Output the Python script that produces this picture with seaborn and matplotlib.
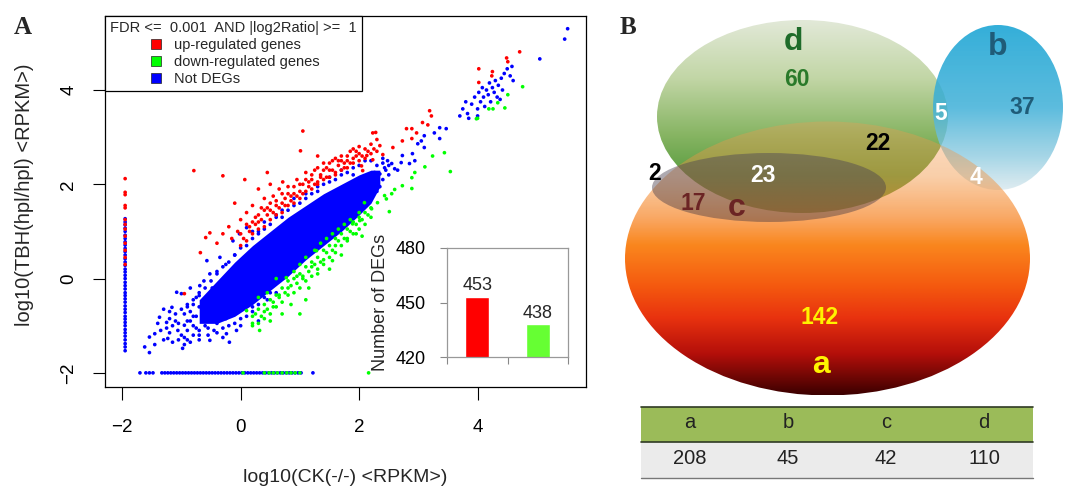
import numpy as np
import pandas as pd
import matplotlib
matplotlib.use("Agg")
import matplotlib.pyplot as plt
import seaborn as sns
from matplotlib.patches import Ellipse, Rectangle
from matplotlib.lines import Line2D
from matplotlib.colors import to_rgb

# ---------------- Panel A data (log10 RPKM) ----------------
# dense core of the "Not DEGs" cloud: x, lower edge, upper edge
core_x = [-0.7, -0.4, -0.1, 0.2, 0.5, 0.8, 1.1, 1.4, 1.7, 2.0, 2.2, 2.35]
core_lo = [-0.95, -0.95, -0.8, -0.55, -0.25, 0.05, 0.4, 0.7, 1.0, 1.35, 1.6, 1.95]
core_hi = [-0.45, -0.05, 0.35, 0.7, 1.0, 1.3, 1.55, 1.8, 2.0, 2.2, 2.3, 2.3]

blue_pts = [
    (-1.54, -1.57), (-1.54, -1.24), (-1.45, -1.17), (-1.37, -0.82), (-1.25, -0.93), (-1.16, -0.61),
    (-1.08, -0.29), (-1.0, -0.32), (-0.98, -1.48), (-1.23, -1.27), (-1.3, -1.3), (-1.1, -0.9),
    (-1.2, -0.7), (-0.9, -0.6), (-0.85, -0.2), (-0.75, -0.4), (-0.69, -0.15), (-0.52, 0.1),
    (-0.57, 0.38), (-0.35, 0.45), (-0.13, 0.8), (-0.02, 0.95), (0.1, 1.08), (-0.64, -0.47),
    (-0.41, -0.75), (-0.24, -1.17), (-0.07, -1.1), (-0.52, -1.31), (-0.19, -1.35), (-0.8, -1.0),
    (-0.7, -1.2), (-0.6, -0.9), (-0.45, -1.1), (-0.3, -1.25), (-0.9, -0.9),
    (-1.06, -1.1), (-0.95, -0.99), (-0.85, -0.9), (-0.75, -0.8), (-0.65, -0.7), (-0.55, -0.6),
    (-0.45, -0.5), (-0.35, -0.4), (-0.25, -0.3), (-0.15, -0.2),
    (-0.9, -1.3), (-0.8, -1.2), (-0.7, -1.1), (-0.6, -1.0), (-0.5, -0.9), (-0.4, -0.82), (-0.3, -0.73),
    (-1.2, -0.85), (-1.1, -0.75), (-1.0, -0.65), (-0.9, -0.55), (-0.8, -0.45), (-0.7, -0.36),
    (-0.62, -0.05), (-0.48, -0.2), (-0.4, 0.15), (-0.25, 0.3), (-0.1, 0.5), (-0.55, -0.75),
    (-1.15, -1.0), (-1.05, -0.95), (-1.0, -1.2), (-0.95, -0.75), (-0.9, -1.1), (-0.85, -0.7),
    (-0.8, -0.8), (-0.75, -1.05), (-0.7, -0.6), (-0.65, -0.9), (-0.6, -0.5), (-0.55, -1.05),
    (-0.5, -0.7), (-0.45, -0.3), (-0.4, -0.95), (-0.35, -0.6), (-0.3, -0.2), (-0.25, -0.85),
    (-0.2, -0.5), (-0.15, -0.7), (-0.1, -0.3), (-0.05, -0.6), (-1.35, -1.1), (-1.25, -1.05),
    (-1.2, -1.15), (-1.4, -0.95), (-1.3, -0.65), (-1.45, -1.4), (-1.62, -1.45), (-1.15, -1.35),
    (-1.05, -1.3), (-0.95, -1.4),
    (-0.8, -0.55), (-0.7, -0.3), (-0.6, -0.2), (-0.5, -0.05), (-0.4, 0.1), (-0.3, 0.25),
    (-0.2, 0.35), (-0.1, 0.5), (0.0, 0.65), (0.1, 0.7), (0.2, 0.85), (0.3, 1.0), (0.4, 1.05),
    (0.5, 1.15), (0.6, 1.3), (0.7, 1.3), (0.8, 1.45), (0.9, 1.55), (1.0, 1.6), (1.1, 1.7),
    (1.2, 1.8), (1.3, 1.85), (1.4, 2.0), (1.5, 2.05), (1.6, 2.1), (1.7, 2.2), (1.8, 2.25),
    (1.9, 2.2), (2.0, 2.4), (2.2, 2.5), (2.3, 2.4), (2.4, 2.55), (2.45, 2.3), (2.5, 2.4),
    (2.4, 2.1), (2.35, 1.95),
    (-0.95, -1.25), (-0.85, -1.35), (-0.7, -1.3), (-0.55, -1.2), (-0.4, -1.15), (-0.3, -1.05),
    (-0.2, -1.0), (-0.1, -0.95), (0.0, -0.85), (0.1, -0.8), (0.2, -0.6), (0.3, -0.55), (0.4, -0.4),
    (0.5, -0.3), (0.6, -0.1), (0.7, 0.0), (0.8, 0.1), (0.9, 0.25), (1.0, 0.35), (1.1, 0.5),
    (1.2, 0.6), (1.3, 0.75), (1.4, 0.85), (1.5, 0.95), (1.6, 1.05), (1.7, 1.15), (1.8, 1.3),
    (1.9, 1.4), (2.0, 1.5), (2.1, 1.6), (2.2, 1.75), (2.3, 1.85),
    (0.2, 1.0), (0.3, 0.95), (0.4, 1.2), (0.6, 1.35), (0.7, 1.45), (0.9, 1.7), (1.1, 1.8),
    (1.3, 1.95), (1.5, 2.15), (1.7, 2.3), (1.9, 2.35), (2.1, 2.5), (0.0, -1.0), (0.2, -0.7),
    (0.3, -0.9), (0.45, -0.45), (0.6, -0.3), (0.8, 0.1), (1.0, 0.45), (1.2, 0.7), (1.4, 1.0),
    (1.6, 1.2), (1.8, 1.5), (2.0, 1.7), (0.15, -0.55), (0.35, -0.2), (0.55, 0.05), (0.75, 0.3),
    (2.04, 1.72), (2.06, 1.93), (2.13, 2.03), (2.18, 1.86), (2.23, 2.14), (2.26, 2.25), (2.35, 2.22),
    (2.43, 2.35), (2.48, 2.5), (2.55, 2.44), (2.6, 2.33), (2.71, 2.46), (2.73, 2.61), (2.85, 2.44),
    (2.9, 2.65), (2.94, 2.5), (2.99, 2.86), (3.05, 2.92), (3.1, 3.03), (3.1, 2.78), (3.27, 3.09),
    (3.36, 3.2), (3.36, 2.97), (3.47, 3.18), (2.3, 2.0), (2.5, 2.2), (2.65, 2.3), (2.4, 2.45),
    (3.7, 3.45), (3.75, 3.6), (3.8, 3.75), (3.83, 3.5), (3.9, 3.7), (3.95, 3.85), (4.0, 3.6),
    (4.02, 3.95), (4.05, 3.75), (4.08, 4.05), (4.1, 3.85), (4.12, 3.65), (4.15, 4.0), (4.18, 3.9),
    (4.2, 4.15), (4.22, 3.75), (4.25, 4.05), (4.28, 3.95), (4.3, 4.2), (4.33, 3.85), (4.35, 4.1),
    (4.4, 4.25), (4.42, 4.0), (4.45, 4.35), (4.5, 4.45), (4.55, 4.3), (4.58, 4.5), (4.6, 4.2),
    (4.38, 3.8), (3.85, 3.4), (4.0, 3.45),
    (5.05, 4.66), (5.47, 5.08), (5.52, 5.3),
]

red_pts = [
    (-0.95, -0.32), (-0.68, 0.55), (-0.59, 0.87), (-0.52, 0.97), (-0.79, 2.29), (-0.3, 2.18),
    (0.07, 2.1), (0.71, 2.05), (1.01, 2.71), (1.05, 3.13), (-0.4, 0.75), (-0.3, 0.95), (-0.2, 1.1),
    (-0.15, 0.85), (-0.05, 1.0), (0.0, 1.25), (0.1, 1.4), (0.15, 1.1), (0.2, 1.55), (0.25, 1.3),
    (0.3, 1.2), (0.35, 1.5), (0.4, 1.7), (0.45, 1.35), (0.5, 1.45), (0.55, 1.75), (0.6, 1.55),
    (0.65, 1.9), (0.7, 1.6), (0.75, 1.7), (0.8, 1.95), (0.85, 1.75), (0.9, 1.8), (0.95, 2.1),
    (1.0, 1.85), (1.05, 2.0), (1.1, 2.25), (1.15, 1.95), (1.2, 2.1), (1.25, 2.3), (1.3, 2.05),
    (1.35, 2.2), (1.4, 2.45), (1.45, 2.15), (1.5, 2.3), (1.55, 2.5), (1.6, 2.25), (1.65, 2.4),
    (1.7, 2.6), (1.75, 2.35), (1.8, 2.5), (1.85, 2.7), (1.9, 2.45), (1.95, 2.6), (2.0, 2.8),
    (2.06, 2.29), (2.04, 2.39), (2.13, 2.61), (2.23, 2.52), (2.35, 2.82), (2.4, 2.63), (2.57, 2.78),
    (2.73, 2.92), (2.89, 2.97), (2.23, 3.09), (2.28, 3.1), (2.8, 3.18), (2.89, 3.18), (2.97, 3.09),
    (3.07, 3.31), (3.16, 3.26), (3.19, 3.56), (3.22, 3.45), (4.02, 4.16), (4.02, 4.45), (4.24, 4.3),
    (4.25, 4.39), (4.49, 4.68), (4.51, 4.6), (4.71, 4.81), (0.3, 1.9), (0.5, 2.0), (-0.1, 1.6),
    (0.45, 2.25), (1.3, 2.6),
    (0.0, 0.7), (0.0, 0.95), (0.1, 0.8), (0.1, 1.15), (0.2, 0.95), (0.2, 1.2), (0.3, 1.05),
    (0.3, 1.35), (0.4, 1.1), (0.4, 1.45), (0.5, 1.25), (0.5, 1.6), (0.6, 1.35), (0.6, 1.65),
    (0.7, 1.4), (0.7, 1.8), (0.8, 1.55), (0.8, 1.8), (0.9, 1.6), (0.9, 1.95), (1.0, 1.7),
    (1.0, 2.0), (1.1, 1.85), (1.1, 2.1), (1.2, 1.9), (1.2, 2.2), (1.3, 2.0), (1.3, 2.35),
    (1.4, 2.1), (1.4, 2.3), (1.5, 2.15), (1.5, 2.45), (1.6, 2.2), (1.6, 2.55), (1.7, 2.3),
    (1.7, 2.5), (1.8, 2.35), (1.8, 2.6), (1.9, 2.55), (1.9, 2.75), (2.0, 2.5), (2.0, 2.65),
    (2.1, 2.55), (2.1, 2.75), (2.2, 2.65), (2.2, 2.85), (2.3, 2.7), (2.3, 2.95),
    (0.05, 0.85), (0.15, 1.0), (0.25, 1.15), (0.35, 1.25), (0.45, 1.5), (0.55, 1.4), (0.65, 1.5),
    (0.75, 1.55), (0.85, 1.65), (0.95, 1.75), (1.05, 1.8), (1.15, 2.05), (1.25, 2.0), (1.35, 2.15),
    (1.45, 2.35), (1.55, 2.3), (1.65, 2.5), (1.75, 2.45), (1.85, 2.45), (1.95, 2.7), (2.05, 2.6),
    (2.15, 2.7), (2.25, 2.75),
]

green_pts = [
    (0.1, -0.68), (0.32, -1.1), (0.2, -0.95), (0.4, -0.7), (0.5, -0.9), (0.55, -0.5), (0.65, -0.35),
    (0.7, -0.75), (0.77, 0.02), (0.8, -0.2), (0.85, -0.55), (0.9, 0.15), (0.95, -0.1), (1.0, -0.75),
    (1.0, 0.3), (1.05, 0.05), (1.1, 0.45), (1.15, -0.2), (1.2, 0.25), (1.25, 0.6), (1.28, 0.59),
    (1.3, 0.1), (1.35, 0.75), (1.4, 0.4), (1.45, 0.85), (1.5, 0.2), (1.55, 0.38), (1.55, 0.95),
    (1.6, 0.7), (1.65, 1.05), (1.7, 0.5), (1.75, 1.15), (1.8, 0.85), (1.85, 1.25), (1.89, 1.16),
    (1.95, 0.95), (2.0, 1.4), (2.01, 1.23), (2.09, 1.61), (2.05, 0.9), (2.21, 1.48), (2.31, 1.61),
    (2.43, 1.76), (2.46, 1.69), (2.51, 1.42), (2.55, 1.8), (2.6, 1.89), (2.73, 1.97), (2.89, 1.91),
    (2.89, 2.14), (2.94, 2.25), (3.11, 2.37), (3.24, 2.6), (3.44, 2.67), (3.54, 2.27), (3.98, 3.39),
    (4.0, 3.4), (4.19, 3.6), (4.26, 3.6), (4.34, 3.73), (4.46, 3.62), (4.51, 3.9), (4.76, 4.07),
    (0.6, 0.0), (0.45, -0.3), (1.1, -0.45), (0.3, -0.4),
    (0.2, -0.8), (0.2, -1.0), (0.3, -0.65), (0.3, -0.95), (0.4, -0.55), (0.4, -0.85), (0.5, -0.45),
    (0.5, -0.75), (0.6, -0.35), (0.6, -0.6), (0.7, -0.2), (0.7, -0.5), (0.8, -0.05), (0.8, -0.35),
    (0.9, 0.0), (0.9, -0.3), (1.0, 0.1), (1.0, -0.2), (1.1, 0.25), (1.1, -0.05), (1.2, 0.35),
    (1.2, 0.05), (1.3, 0.45), (1.3, 0.2), (1.4, 0.6), (1.4, 0.3), (1.5, 0.7), (1.5, 0.45),
    (1.6, 0.85), (1.6, 0.55), (1.7, 0.95), (1.7, 0.7), (1.8, 1.05), (1.8, 0.8), (1.9, 1.2),
    (1.9, 0.95), (2.0, 1.3), (2.0, 1.05), (2.1, 1.4), (2.1, 1.15), (2.2, 1.5), (2.2, 1.3),
    (0.25, -0.75), (0.35, -0.8), (0.45, -0.65), (0.55, -0.6), (0.65, -0.4), (0.75, -0.3),
    (0.85, -0.15), (0.95, 0.05), (1.05, 0.0), (1.15, 0.15), (1.25, 0.3), (1.35, 0.35),
    (1.45, 0.55), (1.55, 0.6), (1.65, 0.8), (1.75, 0.85), (1.85, 1.0), (1.95, 1.15),
    (2.05, 1.25), (2.15, 1.35),
]

# genes with zero expression in CK (x = -2 column) and in TBH (y = -2 row)
strip_x = -1.95
vblue_y = [-1.53, -1.45, -1.38, -1.3, -1.22, -1.15, -1.08, -1.0, -0.93, -0.86, -0.8, -0.72, -0.65,
           -0.58, -0.5, -0.43, -0.36, -0.3, -0.22, -0.15, -0.08, 0.0, 0.07, 0.14, 0.2, 0.28, 0.35,
           0.42, 0.5, 0.57, 0.64, 0.71, 0.78, 0.85, 0.92, 1.0, 1.07, 1.14, 1.2, 1.27]
vred_y = [2.12, 1.83, 1.78, 1.55, 1.5, 1.25, 1.15, 1.05, 0.9, 0.75, 0.6, 0.45, 0.3]
strip_y = -2.0
hblue_x = [-1.7, -1.6, -1.54, -1.48, -1.33, -1.28, -1.23, -1.18, -1.13, -1.08, -1.03, -0.98, -0.93,
           -0.88, -0.83, -0.78, -0.73, -0.68, -0.63, -0.58, -0.53, -0.48, -0.43, -0.38, -0.33, -0.28,
           -0.23, -0.18, -0.13, -0.08, -0.03, 0.02, 0.07, 0.12, 0.17, 0.22, 0.27, 0.32, 0.37, 0.42,
           0.47, 0.52, 0.57, 0.62, 0.67, 0.72, 0.77, 0.82, 0.87, 0.92, 0.97, 1.02, 1.22]
hgreen_x = [0.04, 0.4, 0.48, 0.55, 0.62, 0.7, 0.78, 0.85, 0.92, 1.0, 2.16]

legend_labels = ["up-regulated genes", "down-regulated genes", "Not DEGs"]
legend_colors = ["#FF0000", "#00FF00", "#0000FF"]
legend_title = "FDR <=  0.001  AND |log2Ratio| >=  1"

bar_names = ["up", "down"]
bar_counts = [453, 438]
bar_colors = ["#FF0000", "#66FF33"]

# ---------------- Panel B data ----------------
set_names = ["a", "b", "c", "d"]
set_sizes = [208, 45, 42, 110]
region_counts = [60, 37, 5, 22, 2, 23, 4, 17, 142]

# ---------------- Style ----------------
sns.set_theme(style="white")
plt.rcParams["font.family"] = ["Liberation Sans", "DejaVu Sans"]

fig = plt.figure(figsize=(10.67, 4.88), dpi=100)

# ================= Panel A =================
ax = fig.add_axes([105 / 1067, 1 - 387 / 488, 481 / 1067, 371 / 488])
ax.fill_between(core_x, core_lo, core_hi, color="#0000FF", lw=0, zorder=1)

rows = []
for x, y in blue_pts:
    rows.append((x, y, "Not DEGs"))
for y in vblue_y:
    rows.append((strip_x, y, "Not DEGs"))
for x in hblue_x:
    rows.append((x, strip_y, "Not DEGs"))
for x, y in red_pts:
    rows.append((x, y, "up-regulated genes"))
for y in vred_y:
    rows.append((strip_x, y, "up-regulated genes"))
for x, y in green_pts:
    rows.append((x, y, "down-regulated genes"))
for x in hgreen_x:
    rows.append((x, strip_y, "down-regulated genes"))
df = pd.DataFrame(rows, columns=["ck", "tbh", "group"])
pal = dict(zip(legend_labels, legend_colors))
sns.scatterplot(data=df, x="ck", y="tbh", hue="group", palette=pal, s=7, linewidth=0,
                legend=False, ax=ax, zorder=2)

ax.set_xlim(-2.29, 5.83)
ax.set_ylim(-2.30, 5.57)
ax.set_xticks([-2, 0, 2, 4])
ax.set_yticks([-2, 0, 2, 4])
ax.set_xlabel("")
ax.set_ylabel("")
ax.tick_params(direction="out", length=9, width=0.8, labelsize=13.5,
               bottom=True, left=True, colors="black")
ax.tick_params(axis="x", pad=14)
ax.tick_params(axis="y", pad=11)
for lbl in ax.get_yticklabels():
    lbl.set_rotation(90)
    lbl.set_va("center")
for sp in ax.spines.values():
    sp.set_color("black")
    sp.set_linewidth(0.9)

handles = [Line2D([], [], marker="s", ls="", markerfacecolor=c, markeredgecolor="#222222",
                  markeredgewidth=0.5, markersize=7) for c in legend_colors]
leg = ax.legend(handles, legend_labels, title=legend_title, loc="upper left",
                bbox_to_anchor=(0, 1), borderaxespad=0, frameon=True, fancybox=False,
                fontsize=10.5, title_fontsize=10.5, handletextpad=0.7, labelspacing=0.2,
                borderpad=0.35, framealpha=1, handlelength=1.2)
leg.get_frame().set_edgecolor("black")
leg.get_frame().set_linewidth(0.9)

fig.text(345 / 1067, 1 - 477 / 488, "log10(CK(-/-) <RPKM>)", ha="center", va="center", fontsize=14)
fig.text(25 / 1067, 1 - 195 / 488, "log10(TBH(hpl/hpl) <RPKM>)", ha="center", va="center",
         rotation=90, fontsize=14.5)

# inset bar chart
axi = fig.add_axes([447 / 1067, 1 - 357 / 488, 121 / 1067, 109 / 488])
sns.barplot(x=bar_names, y=bar_counts, hue=bar_names, palette=bar_colors, legend=False,
            width=0.4, saturation=1, ax=axi, zorder=2)
axi.set_facecolor("white")
axi.set_ylim(420, 480)
axi.set_xlim(-0.5, 1.5)
axi.set_xticks([-0.5, 0.5, 1.5])
axi.set_xticklabels([])
axi.set_yticks([420, 450, 480])
axi.set_xlabel("")
axi.set_ylabel("Number of DEGs", fontsize=13, labelpad=5)
axi.tick_params(direction="out", length=5, width=0.8, colors="#888888", labelcolor="black",
                labelsize=13, bottom=True, left=True)
axi.tick_params(axis="y", pad=10)
for sp in axi.spines.values():
    sp.set_color("#999999")
    sp.set_linewidth(0.9)
for i, v in enumerate(bar_counts):
    axi.text(i, v + 1.5, str(v), ha="center", va="bottom", fontsize=13)

fig.text(23 / 1067, 1 - 27 / 488, "A", ha="center", va="center", fontsize=18,
         fontweight="bold", family=["Liberation Serif", "DejaVu Serif"])

# ================= Panel B =================
axb = fig.add_axes([600 / 1067, 0, 467 / 1067, 1])
axb.set_xlim(600, 1067)
axb.set_ylim(488, 0)
axb.axis("off")


def grad_ellipse(cx, cy, w, h, stops, z):
    e = Ellipse((cx, cy), w, h, facecolor="none", edgecolor="none")
    axb.add_patch(e)
    pos = [s[0] for s in stops]
    rgb = np.array([to_rgb(s[1]) for s in stops])
    alp = [s[2] for s in stops]
    t = np.linspace(0, 1, 300)
    img = np.zeros((300, 1, 4))
    for k in range(3):
        img[:, 0, k] = np.interp(t, pos, rgb[:, k])
    img[:, 0, 3] = np.interp(t, pos, alp)
    im = axb.imshow(img, extent=(cx - w / 2 - 2, cx + w / 2 + 2, cy + h / 2, cy - h / 2),
                    aspect="auto", zorder=z, interpolation="bilinear", origin="upper")
    im.set_clip_path(e)


# d (green), b (blue), a (orange -> dark red, translucent at the top), c (grey-brown)
grad_ellipse(802.5, 116.5, 291, 193,
             [(0.0, "#E2E9D8", 1.0), (0.3, "#C2D6A6", 1.0), (0.6, "#86B462", 1.0),
              (0.8, "#5C9E42", 1.0), (1.0, "#3F8A30", 1.0)], 1)
grad_ellipse(998, 107.5, 130, 165,
             [(0.0, "#22A8D6", 0.92), (0.5, "#3FB0D8", 0.85), (0.8, "#8ECBE0", 0.78),
              (1.0, "#D5E6EC", 0.75)], 2)
grad_ellipse(827.5, 258.5, 405, 274,
             [(0.0, "#F59A50", 0.32), (0.2, "#F39440", 0.45), (0.35, "#F88C32", 0.75),
              (0.45, "#FA871E", 1.0), (0.6, "#F55A0F", 1.0), (0.72, "#E8320F", 1.0),
              (0.85, "#B40F0A", 1.0), (1.0, "#3C0000", 1.0)], 3)
grad_ellipse(769, 187.5, 234, 69,
             [(0.0, "#4A4458", 0.45), (1.0, "#4A3A40", 0.45)], 4)

axb.set_xlim(600, 1067)
axb.set_ylim(488, 0)

txt = dict(fontweight="bold", ha="center", va="center", zorder=10)
axb.text(793, 42, "d", color="#1E6B2A", fontsize=23, **txt)
axb.text(998, 47, "b", color="#1F5C78", fontsize=23, **txt)
axb.text(737, 208, "c", color="#6B2424", fontsize=23, **txt)
axb.text(821, 365, "a", color="#FFF200", fontsize=23, **txt)
region_pos = [(797, 80), (1022, 107), (941, 113), (878, 144), (655, 173), (763, 176),
              (976, 177), (693, 203), (820, 318)]
region_col = ["#2A7A2A", "#1F5C78", "white", "black", "black", "white", "white", "#6B2424", "#FFF200"]
for (px, py), c, n in zip(region_pos, region_col, region_counts):
    axb.text(px, py, str(n), color=c, fontsize=16.5, **txt)

# summary table
tx0, tx1 = 641, 1033
axb.add_patch(Rectangle((tx0, 407), tx1 - tx0, 35, facecolor="#9BBB59", edgecolor="none", zorder=5))
axb.add_patch(Rectangle((tx0, 442), tx1 - tx0, 36, facecolor="#EBEBEB", edgecolor="none", zorder=5))
axb.plot([tx0, tx1], [407, 407], color="#2F3A24", lw=1.2, zorder=6)
axb.plot([tx0, tx1], [442, 442], color="#2F3A24", lw=1.2, zorder=6)
axb.plot([tx0, tx1], [478, 478], color="#777777", lw=1.0, zorder=6)
colw = (tx1 - tx0) / len(set_names)
for i, (nm, sz) in enumerate(zip(set_names, set_sizes)):
    cx = tx0 + colw * (i + 0.5)
    axb.text(cx, 423, nm, ha="center", va="center", fontsize=14.5, color="#222222", zorder=7)
    axb.text(cx, 459, str(sz), ha="center", va="center", fontsize=14.5, color="#222222", zorder=7)

fig.text(628 / 1067, 1 - 27 / 488, "B", ha="center", va="center", fontsize=18,
         fontweight="bold", family=["Liberation Serif", "DejaVu Serif"])

fig.savefig("out.png", dpi=100)
